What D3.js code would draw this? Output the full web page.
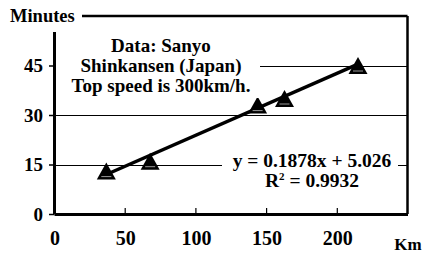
<!DOCTYPE html>
<html>
<head>
<meta charset="utf-8">
<script src="https://cdn.jsdelivr.net/npm/d3@7"></script>
</head>
<body style="margin:0">
<script>
// data
const km = [37, 68, 144, 163, 215];
const minutes = [13, 16, 33, 35, 45];
const xTicks = [0, 50, 100, 150, 200];
const yTicks = [0, 15, 30, 45];
const trendSlope = 0.1878;
const trendIntercept = 5.026;
const noteLines = ["Data: Sanyo", "Shinkansen (Japan)", "Top speed is 300km/h."];
const eqLines = ["y = 0.1878x + 5.026", "R", " = 0.9932"];

const width = 425, height = 256;
const margin = { top: 16, right: 17.5, bottom: 42, left: 54 };

const svg = d3.select("body").append("svg")
  .attr("width", width)
  .attr("height", height);

const x = d3.scaleLinear().domain([0, 250]).range([margin.left, width - margin.right]);
const y = d3.scaleLinear().domain([0, 60]).range([height - margin.bottom, margin.top]);

function label(sel, size) {
  return sel.style("font-family", "'Liberation Serif'")
    .style("font-weight", "bold")
    .style("font-size", size + "px");
}

// gridlines
svg.append("g")
  .selectAll("line")
  .data(yTicks.filter(d => d > 0))
  .enter().append("line")
  .attr("x1", x(0)).attr("x2", x(250))
  .attr("y1", d => Math.round(y(d)) + 0.5).attr("y2", d => Math.round(y(d)) + 0.5)
  .attr("stroke", "#000").attr("stroke-width", 1);

// frame: top and right borders
svg.append("line")
  .attr("x1", x(0)).attr("x2", x(250))
  .attr("y1", y(60)).attr("y2", y(60))
  .attr("stroke", "#000").attr("stroke-width", 2.5);
svg.append("line")
  .attr("x1", x(250)).attr("x2", x(250))
  .attr("y1", y(60)).attr("y2", y(0))
  .attr("stroke", "#000").attr("stroke-width", 2.5);

// y axis
const yAxis = d3.axisLeft(y).tickValues(yTicks).tickSize(5).tickSizeOuter(0).tickFormat("");
const gy = svg.append("g").attr("transform", `translate(${x(0)},0)`).call(yAxis);
gy.select(".domain").attr("stroke-width", 3);
gy.selectAll(".tick line").attr("stroke-width", 1.5);

// x axis, ticks pointing inward
const xAxis = d3.axisBottom(x).tickValues(xTicks.filter(d => d > 0)).tickSize(-6).tickSizeOuter(0).tickFormat("");
const gx = svg.append("g").attr("transform", `translate(0,${y(0)})`).call(xAxis);
gx.select(".domain").attr("stroke-width", 3);
gx.selectAll(".tick line").attr("stroke-width", 1.2);

// trendline
svg.append("line")
  .attr("x1", x(d3.min(km))).attr("x2", x(d3.max(km)))
  .attr("y1", y(trendSlope * d3.min(km) + trendIntercept))
  .attr("y2", y(trendSlope * d3.max(km) + trendIntercept))
  .attr("stroke", "#000").attr("stroke-width", 3.5);

// triangle markers
const tri = svg.append("g").selectAll("g")
  .data(km.map((d, i) => ({ km: d, min: minutes[i] })))
  .enter().append("g")
  .attr("transform", d => `translate(${x(d.km)},${y(d.min)})`);
tri.append("path")
  .attr("d", "M0,-8.5L9.5,8.5L-9.5,8.5Z")
  .attr("fill", "#000");
tri.append("line")
  .attr("x1", -5).attr("x2", 5).attr("y1", 5.5).attr("y2", 5.5)
  .attr("stroke", "#999").attr("stroke-width", 1);

// white boxes behind the labels
svg.append("rect").attr("x", 56).attr("y", 34).attr("width", 204).attr("height", 64).attr("fill", "#fff");
svg.append("rect").attr("x", 222).attr("y", 150).attr("width", 176).attr("height", 42).attr("fill", "#fff");
svg.append("rect").attr("x", 0).attr("y", 0).attr("width", 82).attr("height", 32).attr("fill", "#fff");

// tick labels
label(svg.append("g").selectAll("text")
  .data(yTicks)
  .enter().append("text"), 19)
  .attr("x", x(0) - 11)
  .attr("y", d => y(d))
  .attr("dy", "0.36em")
  .attr("text-anchor", "end")
  .text(d => d);

label(svg.append("g").selectAll("text")
  .data(xTicks)
  .enter().append("text"), 20)
  .attr("x", d => x(d) + 1)
  .attr("y", 245)
  .attr("text-anchor", "middle")
  .text(d => d);

label(svg.append("text"), 17)
  .attr("x", 408).attr("y", 250)
  .attr("text-anchor", "middle")
  .text("Km");

// note text
const noteText = label(svg.append("text"), 19)
  .attr("text-anchor", "middle");
noteText.selectAll("tspan")
  .data(noteLines)
  .enter().append("tspan")
  .attr("x", 161)
  .attr("y", (d, i) => 52 + i * 20)
  .text(d => d);

// equation text
const eqText = label(svg.append("text"), 19.5)
  .attr("text-anchor", "middle");
eqText.append("tspan").attr("x", 312).attr("y", 167).text(eqLines[0]);
const r2 = eqText.append("tspan").attr("x", 312).attr("y", 187);
r2.append("tspan").text(eqLines[1]);
r2.append("tspan").attr("dy", -7).style("font-size", "11px").text("2");
r2.append("tspan").attr("dy", 7).text(eqLines[2]);

// y axis title
label(svg.append("text"), 18.5)
  .attr("x", 10).attr("y", 21.5)
  .text("Minutes");
</script>
</body>
</html>
